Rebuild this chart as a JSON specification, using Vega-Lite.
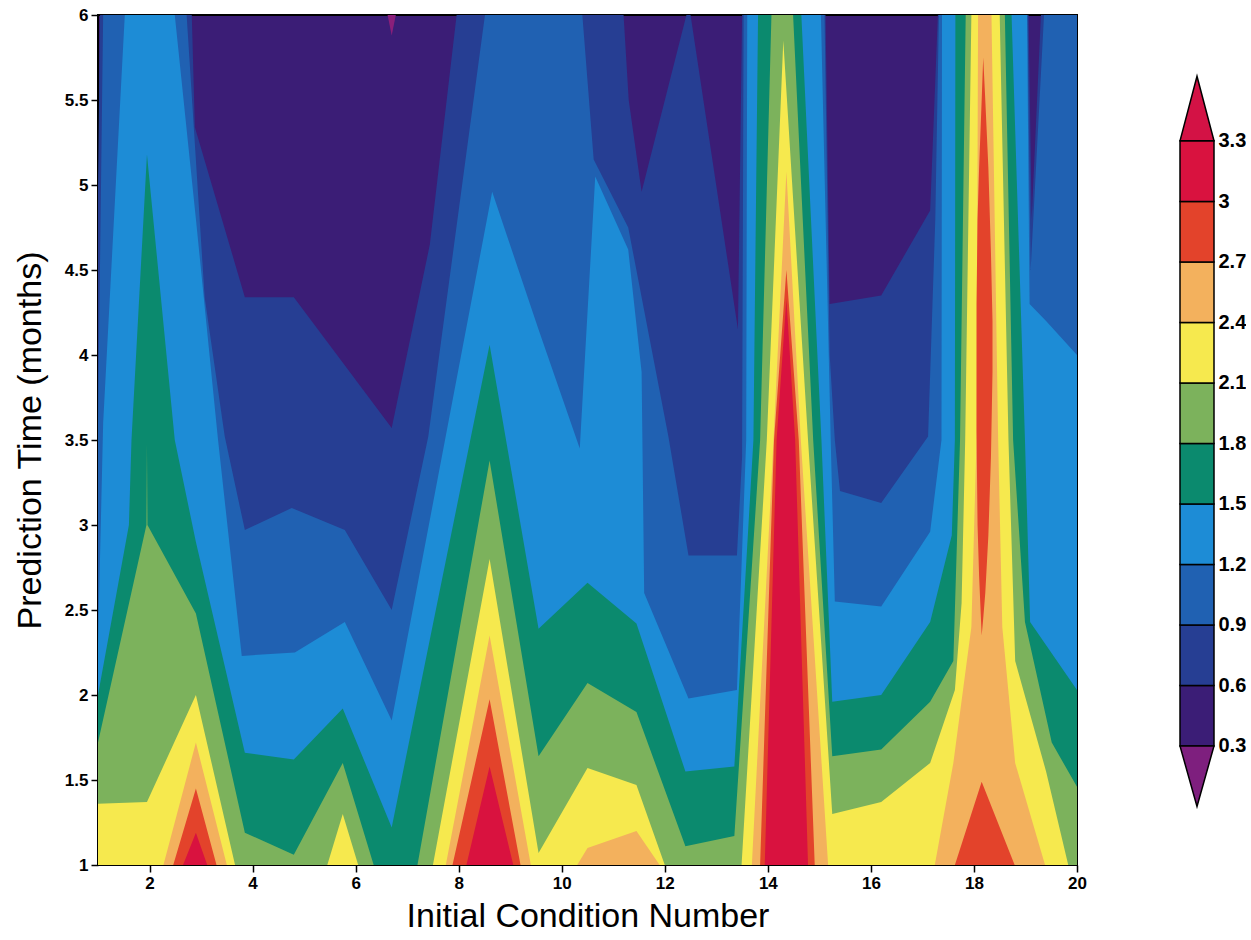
{
  "$schema": "https://vega.github.io/schema/vega-lite/v6.json",
  "autosize": {"type": "pad"},
  "padding": {"left": 12, "top": 5, "right": 0, "bottom": 0},
  "background": "white",
  "spacing": 103,
  "bounds": "flush",
  "datasets": {
    "l06": [
      {"x":1,"hi":5.0,"lo":1},{"x":1.04,"hi":6,"lo":1},{"x":2.82,"hi":6,"lo":1},{"x":2.88,"hi":5.34,"lo":1},{"x":3.85,"hi":4.34,"lo":1},{"x":4.8,"hi":4.34,"lo":1},{"x":6.7,"hi":3.57,"lo":1},{"x":7.44,"hi":4.65,"lo":1},{"x":7.96,"hi":6,"lo":1},{"x":11.2,"hi":6,"lo":1},{"x":11.3,"hi":5.5,"lo":1},{"x":11.55,"hi":4.96,"lo":1},{"x":12.42,"hi":6,"lo":1},{"x":12.5,"hi":6,"lo":1},{"x":13.42,"hi":4.15,"lo":1},{"x":13.5,"hi":6,"lo":1},{"x":15.12,"hi":6,"lo":1},{"x":15.2,"hi":4.3,"lo":1},{"x":16.2,"hi":4.35,"lo":1},{"x":17.15,"hi":4.85,"lo":1},{"x":17.3,"hi":6,"lo":1},{"x":19.06,"hi":6,"lo":1},{"x":19.12,"hi":4.8,"lo":1},{"x":19.3,"hi":6,"lo":1},{"x":20,"hi":6,"lo":1}
    ],
    "l09": [
      {"x":1,"hi":3.6,"lo":1},{"x":1.1,"hi":6,"lo":1},{"x":2.72,"hi":6,"lo":1},{"x":3.07,"hi":4.34,"lo":1},{"x":3.46,"hi":3.52,"lo":1},{"x":3.85,"hi":2.97,"lo":1},{"x":4.76,"hi":3.1,"lo":1},{"x":5.79,"hi":2.97,"lo":1},{"x":6.7,"hi":2.5,"lo":1},{"x":7.41,"hi":3.52,"lo":1},{"x":8.51,"hi":6,"lo":1},{"x":10.4,"hi":6,"lo":1},{"x":10.62,"hi":5.15,"lo":1},{"x":11.29,"hi":4.75,"lo":1},{"x":12.07,"hi":3.52,"lo":1},{"x":12.46,"hi":2.82,"lo":1},{"x":13.4,"hi":2.82,"lo":1},{"x":13.5,"hi":3.4,"lo":1},{"x":13.53,"hi":6,"lo":1},{"x":15.1,"hi":6,"lo":1},{"x":15.2,"hi":4.0,"lo":1},{"x":15.3,"hi":3.5,"lo":1},{"x":15.4,"hi":3.2,"lo":1},{"x":16.2,"hi":3.13,"lo":1},{"x":17.11,"hi":3.52,"lo":1},{"x":17.25,"hi":4.8,"lo":1},{"x":17.32,"hi":6,"lo":1},{"x":19.04,"hi":6,"lo":1},{"x":19.1,"hi":4.5,"lo":1},{"x":19.36,"hi":6,"lo":1},{"x":20,"hi":6,"lo":1}
    ],
    "l12": [
      {"x":1,"hi":2.3,"lo":1},{"x":1.1,"hi":3.6,"lo":1},{"x":1.52,"hi":6,"lo":1},{"x":2.49,"hi":6,"lo":1},{"x":2.9,"hi":4.8,"lo":1},{"x":3.33,"hi":3.5,"lo":1},{"x":3.79,"hi":2.23,"lo":1},{"x":4.82,"hi":2.25,"lo":1},{"x":5.79,"hi":2.43,"lo":1},{"x":6.7,"hi":1.85,"lo":1},{"x":8.65,"hi":4.96,"lo":1},{"x":9.55,"hi":4.15,"lo":1},{"x":10.35,"hi":3.45,"lo":1},{"x":10.65,"hi":5.05,"lo":1},{"x":11.29,"hi":4.62,"lo":1},{"x":11.55,"hi":3.9,"lo":1},{"x":11.6,"hi":2.6,"lo":1},{"x":12.46,"hi":1.98,"lo":1},{"x":13.4,"hi":2.03,"lo":1},{"x":13.58,"hi":3.5,"lo":1},{"x":13.6,"hi":6,"lo":1},{"x":15.03,"hi":6,"lo":1},{"x":15.22,"hi":3.5,"lo":1},{"x":15.3,"hi":2.55,"lo":1},{"x":16.2,"hi":2.52,"lo":1},{"x":17.15,"hi":2.96,"lo":1},{"x":17.37,"hi":3.5,"lo":1},{"x":17.38,"hi":6,"lo":1},{"x":19.03,"hi":6,"lo":1},{"x":19.08,"hi":4.3,"lo":1},{"x":19.4,"hi":4.2,"lo":1},{"x":20,"hi":4.0,"lo":1}
    ],
    "l15": [
      {"x":1,"hi":2.0,"lo":1},{"x":1.6,"hi":3.0,"lo":1},{"x":1.65,"hi":3.5,"lo":1},{"x":1.95,"hi":5.18,"lo":1},{"x":2.49,"hi":3.5,"lo":1},{"x":2.9,"hi":2.9,"lo":1},{"x":3.85,"hi":1.66,"lo":1},{"x":4.8,"hi":1.62,"lo":1},{"x":5.75,"hi":1.92,"lo":1},{"x":6.7,"hi":1.22,"lo":1},{"x":8.6,"hi":4.06,"lo":1},{"x":9.55,"hi":2.39,"lo":1},{"x":10.5,"hi":2.66,"lo":1},{"x":11.45,"hi":2.42,"lo":1},{"x":12.4,"hi":1.55,"lo":1},{"x":13.35,"hi":1.58,"lo":1},{"x":13.72,"hi":3.5,"lo":1},{"x":13.81,"hi":6,"lo":1},{"x":14.65,"hi":6,"lo":1},{"x":15.04,"hi":3.5,"lo":1},{"x":15.25,"hi":1.96,"lo":1},{"x":16.2,"hi":2.0,"lo":1},{"x":17.15,"hi":2.43,"lo":1},{"x":17.57,"hi":2.94,"lo":1},{"x":17.63,"hi":3.5,"lo":1},{"x":17.64,"hi":6,"lo":1},{"x":18.73,"hi":6,"lo":1},{"x":18.99,"hi":3.5,"lo":1},{"x":19.09,"hi":2.43,"lo":1},{"x":20,"hi":2.03,"lo":1}
    ],
    "l18": [
      {"x":1,"hi":1.72,"lo":1},{"x":1.94,"hi":3.0,"lo":1},{"x":1.95,"hi":3.48,"lo":1},{"x":1.96,"hi":3.0,"lo":1},{"x":2.9,"hi":2.48,"lo":1},{"x":3.85,"hi":1.19,"lo":1},{"x":4.8,"hi":1.06,"lo":1},{"x":5.75,"hi":1.6,"lo":1},{"x":6.35,"hi":1.0,"lo":1},{"x":7.2,"hi":1.0,"lo":1},{"x":8.6,"hi":3.38,"lo":1},{"x":9.55,"hi":1.64,"lo":1},{"x":10.5,"hi":2.07,"lo":1},{"x":11.45,"hi":1.9,"lo":1},{"x":12.4,"hi":1.11,"lo":1},{"x":13.35,"hi":1.17,"lo":1},{"x":13.85,"hi":3.5,"lo":1},{"x":14.07,"hi":6,"lo":1},{"x":14.49,"hi":6,"lo":1},{"x":14.88,"hi":3.5,"lo":1},{"x":15.25,"hi":1.64,"lo":1},{"x":16.2,"hi":1.68,"lo":1},{"x":17.15,"hi":1.96,"lo":1},{"x":17.6,"hi":2.2,"lo":1},{"x":17.73,"hi":3.5,"lo":1},{"x":17.84,"hi":6,"lo":1},{"x":18.6,"hi":6,"lo":1},{"x":18.76,"hi":3.5,"lo":1},{"x":18.99,"hi":2.43,"lo":1},{"x":19.51,"hi":1.72,"lo":1},{"x":20,"hi":1.46,"lo":1}
    ],
    "l21": [
      {"x":1,"hi":1.36,"lo":1},{"x":1.95,"hi":1.37,"lo":1},{"x":2.9,"hi":2.0,"lo":1},{"x":3.66,"hi":1.0,"lo":1},{"x":5.45,"hi":1.0,"lo":1},{"x":5.75,"hi":1.3,"lo":1},{"x":6.05,"hi":1.0,"lo":1},{"x":7.5,"hi":1.0,"lo":1},{"x":8.6,"hi":2.8,"lo":1},{"x":9.55,"hi":1.07,"lo":1},{"x":10.5,"hi":1.57,"lo":1},{"x":11.45,"hi":1.47,"lo":1},{"x":12.0,"hi":1.0,"lo":1},{"x":13.49,"hi":1.0,"lo":1},{"x":13.98,"hi":3.5,"lo":1},{"x":14.3,"hi":5.85,"lo":1},{"x":14.78,"hi":3.5,"lo":1},{"x":15.25,"hi":1.3,"lo":1},{"x":16.2,"hi":1.37,"lo":1},{"x":17.15,"hi":1.6,"lo":1},{"x":17.63,"hi":2.03,"lo":1},{"x":17.76,"hi":2.54,"lo":1},{"x":17.83,"hi":3.5,"lo":1},{"x":17.95,"hi":6,"lo":1},{"x":18.5,"hi":6,"lo":1},{"x":18.67,"hi":3.5,"lo":1},{"x":18.8,"hi":2.2,"lo":1},{"x":19.4,"hi":1.55,"lo":1},{"x":19.83,"hi":1.0,"lo":1},{"x":20,"hi":1.0,"lo":1}
    ],
    "l24": [
      {"x":1,"hi":1,"lo":1},{"x":2.27,"hi":1,"lo":1},{"x":2.9,"hi":1.72,"lo":1},{"x":3.5,"hi":1,"lo":1},{"x":7.75,"hi":1,"lo":1},{"x":8.6,"hi":2.35,"lo":1},{"x":9.4,"hi":1,"lo":1},{"x":10.3,"hi":1,"lo":1},{"x":10.5,"hi":1.1,"lo":1},{"x":11.45,"hi":1.2,"lo":1},{"x":11.9,"hi":1,"lo":1},{"x":13.69,"hi":1,"lo":1},{"x":14.11,"hi":3.5,"lo":1},{"x":14.36,"hi":5.08,"lo":1},{"x":14.64,"hi":3.5,"lo":1},{"x":15.17,"hi":1,"lo":1},{"x":17.24,"hi":1,"lo":1},{"x":17.6,"hi":1.6,"lo":1},{"x":17.95,"hi":2.4,"lo":1},{"x":18.05,"hi":3.5,"lo":1},{"x":18.08,"hi":6,"lo":1},{"x":18.34,"hi":6,"lo":1},{"x":18.47,"hi":3.5,"lo":1},{"x":18.55,"hi":2.4,"lo":1},{"x":18.8,"hi":1.6,"lo":1},{"x":19.38,"hi":1,"lo":1},{"x":20,"hi":1,"lo":1}
    ],
    "l27": [
      {"x":1,"hi":1,"lo":1},{"x":2.46,"hi":1,"lo":1},{"x":2.9,"hi":1.45,"lo":1},{"x":3.3,"hi":1,"lo":1},{"x":7.88,"hi":1,"lo":1},{"x":8.6,"hi":1.975,"lo":1},{"x":9.2,"hi":1,"lo":1},{"x":13.85,"hi":1,"lo":1},{"x":14.12,"hi":3.5,"lo":1},{"x":14.36,"hi":4.5,"lo":1},{"x":14.6,"hi":3.5,"lo":1},{"x":14.91,"hi":1,"lo":1},{"x":17.63,"hi":1,"lo":1},{"x":18.15,"hi":1.49,"lo":1},{"x":18.79,"hi":1,"lo":1},{"x":20,"hi":1,"lo":1}
    ],
    "l27i": [
      {"x":18.05,"hi":4.3,"lo":3.55},{"x":18.07,"hi":4.8,"lo":3.0},{"x":18.1,"hi":5.1,"lo":2.7},{"x":18.15,"hi":5.5,"lo":2.35},{"x":18.18,"hi":5.75,"lo":2.45},{"x":18.22,"hi":5.5,"lo":2.6},{"x":18.28,"hi":5.1,"lo":2.94},{"x":18.33,"hi":4.6,"lo":3.4},{"x":18.36,"hi":4.2,"lo":3.9}
    ],
    "l30": [
      {"x":1,"hi":1,"lo":1},{"x":2.65,"hi":1,"lo":1},{"x":2.9,"hi":1.19,"lo":1},{"x":3.12,"hi":1,"lo":1},{"x":8.15,"hi":1,"lo":1},{"x":8.6,"hi":1.58,"lo":1},{"x":9.06,"hi":1,"lo":1},{"x":13.94,"hi":1,"lo":1},{"x":14.17,"hi":3.5,"lo":1},{"x":14.36,"hi":4.33,"lo":1},{"x":14.53,"hi":3.5,"lo":1},{"x":14.78,"hi":1,"lo":1},{"x":20,"hi":1,"lo":1}
    ],
    "l00": [
      {"x":6.62,"hi":6,"lo":6},{"x":6.7,"hi":6,"lo":5.88},{"x":6.78,"hi":6,"lo":6}
    ],
    "bands": [
      {"band":"b1","lo":0.3,"hi":0.6},{"band":"b2","lo":0.6,"hi":0.9},{"band":"b3","lo":0.9,"hi":1.2},{"band":"b4","lo":1.2,"hi":1.5},{"band":"b5","lo":1.5,"hi":1.8},{"band":"b6","lo":1.8,"hi":2.1},{"band":"b7","lo":2.1,"hi":2.4},{"band":"b8","lo":2.4,"hi":2.7},{"band":"b9","lo":2.7,"hi":3.0},{"band":"b10","lo":3.0,"hi":3.3}
    ],
    "tri_top": [
      {"tx":0,"lo":3.3,"hi":3.3},{"tx":0.5,"lo":3.3,"hi":3.62},{"tx":1,"lo":3.3,"hi":3.3}
    ],
    "tri_bot": [
      {"tx":0,"lo":0.3,"hi":0.3},{"tx":0.5,"lo":0.0,"hi":0.3},{"tx":1,"lo":0.3,"hi":0.3}
    ]
  },
  "hconcat": [
    {
      "width": 979,
      "height": 850,
      "view": {"stroke": "black", "strokeWidth": 2, "fill": "#3B1D76"},
      "encoding": {
        "x": {"field": "x", "type": "quantitative",
          "scale": {"domain": [1, 20], "nice": false, "zero": false},
          "axis": {"values": [2,4,6,8,10,12,14,16,18,20], "title": "Initial Condition Number",
            "titleFont": "Liberation Sans Narrow, Liberation Sans, sans-serif", "titleFontSize": 34, "titleFontWeight": "normal",
            "labelFontSize": 17, "tickSize": 7, "labelPadding": 3, "titlePadding": 8, "domain": false, "labelFlush": false}},
        "y": {"field": "hi", "type": "quantitative",
          "scale": {"domain": [1, 6], "nice": false, "zero": false},
          "axis": {"values": [1,1.5,2,2.5,3,3.5,4,4.5,5,5.5,6], "format": "~g", "title": "Prediction Time (months)",
            "titleFont": "Liberation Sans Narrow, Liberation Sans, sans-serif", "titleFontSize": 34, "titleFontWeight": "normal",
            "labelFontSize": 17, "tickSize": 7, "labelPadding": 3, "titlePadding": 17, "domain": false}},
        "y2": {"field": "lo"}
      },
      "layer": [
        {"data": {"name": "l06"}, "mark": {"type": "area", "orient": "vertical", "fill": "#263E93", "clip": true}},
        {"data": {"name": "l09"}, "mark": {"type": "area", "orient": "vertical", "fill": "#2061B2", "clip": true}},
        {"data": {"name": "l12"}, "mark": {"type": "area", "orient": "vertical", "fill": "#1D8CD6", "clip": true}},
        {"data": {"name": "l15"}, "mark": {"type": "area", "orient": "vertical", "fill": "#0B8A6E", "clip": true}},
        {"data": {"name": "l18"}, "mark": {"type": "area", "orient": "vertical", "fill": "#7CB25C", "clip": true}},
        {"data": {"name": "l21"}, "mark": {"type": "area", "orient": "vertical", "fill": "#F6E94E", "clip": true}},
        {"data": {"name": "l24"}, "mark": {"type": "area", "orient": "vertical", "fill": "#F3B15D", "clip": true}},
        {"data": {"name": "l27"}, "mark": {"type": "area", "orient": "vertical", "fill": "#E3432B", "clip": true}},
        {"data": {"name": "l27i"}, "mark": {"type": "area", "orient": "vertical", "fill": "#E3432B", "clip": true}},
        {"data": {"name": "l30"}, "mark": {"type": "area", "orient": "vertical", "fill": "#D9123F", "clip": true}},
        {"data": {"name": "l00"}, "mark": {"type": "area", "orient": "vertical", "fill": "#8A1F7A", "clip": true}}
      ]
    },
    {
      "width": 34,
      "height": 850,
      "view": {"stroke": null},
      "layer": [
        {
          "data": {"name": "bands"},
          "mark": {"type": "rect", "stroke": "black", "strokeWidth": 1.5},
          "encoding": {
            "x": {"datum": 0, "type": "quantitative", "scale": {"domain": [0, 1], "nice": false}, "axis": null},
            "x2": {"datum": 1},
            "y": {"field": "lo", "type": "quantitative",
              "scale": {"domain": [-0.29, 3.924], "nice": false, "zero": false},
              "axis": {"orient": "right", "values": [0.3,0.6,0.9,1.2,1.5,1.8,2.1,2.4,2.7,3,3.3], "format": "~g",
                "ticks": false, "domain": false, "grid": false, "title": null,
                "labelFontSize": 20, "labelPadding": 4}},
            "y2": {"field": "hi"},
            "color": {"field": "band", "type": "nominal",
              "scale": {"domain": ["b1","b2","b3","b4","b5","b6","b7","b8","b9","b10"],
                "range": ["#3B1D76","#263E93","#2061B2","#1D8CD6","#0B8A6E","#7CB25C","#F6E94E","#F3B15D","#E3432B","#D9123F"]},
              "legend": null}
          }
        },
        {
          "data": {"name": "tri_top"},
          "mark": {"type": "area", "orient": "vertical", "fill": "#D31245", "stroke": "black", "strokeWidth": 1.5},
          "encoding": {
            "x": {"field": "tx", "type": "quantitative"},
            "y": {"field": "hi", "type": "quantitative"},
            "y2": {"field": "lo"}
          }
        },
        {
          "data": {"name": "tri_bot"},
          "mark": {"type": "area", "orient": "vertical", "fill": "#7E1F7E", "stroke": "black", "strokeWidth": 1.5},
          "encoding": {
            "x": {"field": "tx", "type": "quantitative"},
            "y": {"field": "hi", "type": "quantitative"},
            "y2": {"field": "lo"}
          }
        }
      ]
    }
  ],
  "config": {
    "axis": {"labelFont": "Liberation Sans, Arial, sans-serif", "labelFontWeight": "bold", "labelColor": "black",
      "tickColor": "black", "domainColor": "black", "titleColor": "black", "grid": false, "tickWidth": 1.5}
  }
}
